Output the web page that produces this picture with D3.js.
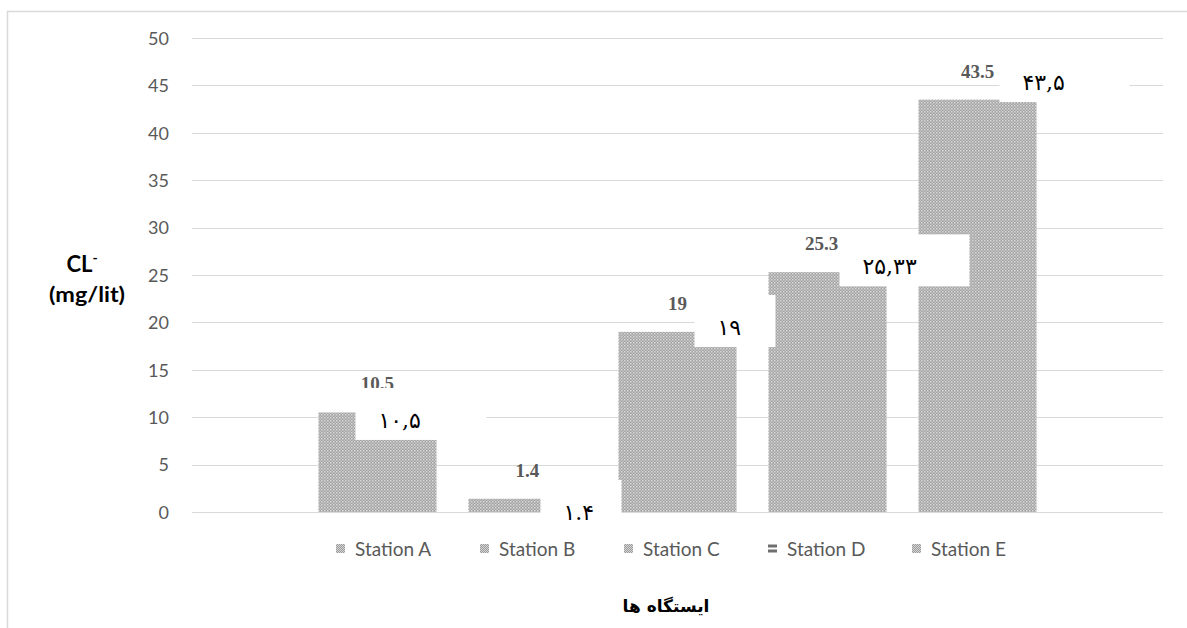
<!DOCTYPE html>
<html>
<head>
<meta charset="utf-8">
<script src="https://cdn.jsdelivr.net/npm/d3@7"></script>
<style>
  html, body { margin: 0; padding: 0; background: #fff; }
  svg { display: block; }
</style>
</head>
<body>
<svg id="chart" width="1187" height="628"></svg>
<script>
// ---- data ----
const stations = ["Station A", "Station B", "Station C", "Station D", "Station E"];
const values = [10.5, 1.4, 19, 25.3, 43.5];
const valueLabels = ["10.5", "1.4", "19", "25.3", "43.5"];
const persianLabels = ["۱۰,۵", "۱.۴", "۱۹", "۲۵,۳۳", "۴۳,۵"];
const yTicks = [0, 5, 10, 15, 20, 25, 30, 35, 40, 45, 50];
const yTitle = "CL";
const yUnit = "(mg/lit)";
const xTitle = "ایستگاه ها";

// ---- annotation layout (overlaid Persian label boxes) ----
const boxDx = [37, 72, 76, 71, 81];        // px from bar left
const boxW = [131, 81, 81, 130, 130];       // px
const boxBottom = [7.6, -2.1, 17.4, 23.8, 43.25]; // in data units
const BOX_H = 52;

const svg = d3.select("#chart");
const defs = svg.append("defs");

// dotted pattern
const pat = defs.append("pattern").attr("id", "dots")
  .attr("patternUnits", "userSpaceOnUse").attr("width", 3).attr("height", 3);
pat.append("rect").attr("width", 3).attr("height", 3).attr("fill", "#a2a2a2");
pat.append("rect").attr("x", 0).attr("y", 0).attr("width", 1.5).attr("height", 1.5).attr("fill", "#dadada");
pat.append("rect").attr("x", 1.5).attr("y", 1.5).attr("width", 1.5).attr("height", 1.5).attr("fill", "#c4c4c4");

const lpat = defs.append("pattern").attr("id", "ldots")
  .attr("patternUnits", "userSpaceOnUse").attr("width", 2).attr("height", 2);
lpat.append("rect").attr("width", 2).attr("height", 2).attr("fill", "#9a9a9a");
lpat.append("rect").attr("width", 1).attr("height", 1).attr("fill", "#d6d6d6");
lpat.append("rect").attr("x", 1).attr("y", 1).attr("width", 1).attr("height", 1).attr("fill", "#d6d6d6");

const hpat = defs.append("pattern").attr("id", "hlines")
  .attr("patternUnits", "userSpaceOnUse").attr("x", 0).attr("y", 544)
  .attr("width", 10).attr("height", 5);
hpat.append("rect").attr("width", 10).attr("height", 5).attr("fill", "#ffffff");
hpat.append("rect").attr("y", 0.5).attr("width", 10).attr("height", 3).attr("fill", "#6f6f6f");

// chart border (cropped on right and bottom)
svg.append("rect").attr("x", 7.5).attr("y", 11.5).attr("width", 1300).attr("height", 700)
  .attr("fill", "none").attr("stroke", "#d9d9d9").attr("stroke-width", 1.5);

const x = d3.scaleBand().domain(stations).range([192, 1163])
  .paddingInner(0.213).paddingOuter(0.843);
const y = d3.scaleLinear().domain([0, 50]).range([512, 38]);

// gridlines
svg.append("g").selectAll("line").data(yTicks).join("line")
  .attr("x1", 192).attr("x2", 1163)
  .attr("y1", d => Math.round(y(d)) + 0.5).attr("y2", d => Math.round(y(d)) + 0.5)
  .attr("stroke", "#d9d9d9").attr("stroke-width", 1);

// y axis tick labels
const yAxis = d3.axisLeft(y).tickValues(yTicks).tickSize(0).tickPadding(0);
const gy = svg.append("g").attr("transform", "translate(169,0)").call(yAxis);
gy.select(".domain").remove();
gy.selectAll("text").attr("font-family", "Lato, 'Open Sans', sans-serif")
  .attr("font-size", 18).attr("fill", "#595959").attr("dy", "0.35em");

// bars
svg.append("g").selectAll("rect").data(values).join("rect")
  .attr("x", (d, i) => x(stations[i]))
  .attr("width", x.bandwidth())
  .attr("y", d => y(d))
  .attr("height", d => y(0) - y(d))
  .attr("fill", "url(#dots)");

// value labels (Times bold gray) - drawn beneath the overlay boxes
svg.append("g").selectAll("text").data(values).join("text")
  .attr("x", (d, i) => x(stations[i]) + x.bandwidth() / 2 - (i === 3 ? 6 : 0))
  .attr("y", d => y(d) - 22)
  .attr("text-anchor", "middle")
  .attr("font-family", "'Liberation Serif', 'Times New Roman', serif")
  .attr("font-weight", "bold").attr("font-size", 19).attr("fill", "#595959")
  .text((d, i) => valueLabels[i]);

// Persian label boxes
const pg = svg.append("g").selectAll("g").data(persianLabels).join("g");
pg.append("rect")
  .attr("x", (d, i) => x(stations[i]) + boxDx[i])
  .attr("y", (d, i) => y(boxBottom[i]) - BOX_H)
  .attr("width", (d, i) => boxW[i])
  .attr("height", BOX_H)
  .attr("fill", "#ffffff");
pg.append("text")
  .attr("x", (d, i) => x(stations[i]) + boxDx[i] + 23)
  .attr("y", (d, i) => y(boxBottom[i]) - 12)
  .attr("direction", "ltr")
  .attr("font-family", "'DejaVu Serif', 'DejaVu Sans', serif")
  .attr("font-size", 22).attr("fill", "#000")
  .text(d => d);

// legend
const lg = svg.append("g").selectAll("g").data(stations).join("g")
  .attr("transform", (d, i) => `translate(${336 + i * 144},0)`);
lg.append("rect").attr("x", 0).attr("y", 544).attr("width", 9).attr("height", 9)
  .attr("fill", (d, i) => i === 3 ? "url(#hlines)" : "url(#ldots)");
lg.append("text").attr("x", 19).attr("y", 556)
  .attr("font-family", "Lato, 'Open Sans', sans-serif").attr("font-size", 19)
  .attr("fill", "#595959").text(d => d);

// y title
const yt = svg.append("text").attr("x", 82).attr("y", 272)
  .attr("text-anchor", "middle")
  .attr("font-family", "Lato, 'Open Sans', sans-serif").attr("font-weight", "bold")
  .attr("font-size", 22).attr("fill", "#000");
yt.append("tspan").text(yTitle);
yt.append("tspan").attr("dy", -9).attr("font-size", 14).text("-");
svg.append("text").attr("x", 87).attr("y", 302).attr("text-anchor", "middle")
  .attr("font-family", "Lato, 'Open Sans', sans-serif").attr("font-weight", "bold")
  .attr("font-size", 20).attr("fill", "#000")
  .attr("textLength", 76).attr("lengthAdjust", "spacingAndGlyphs").text(yUnit);

// x title
svg.append("text").attr("x", 666).attr("y", 612).attr("text-anchor", "middle")
  .attr("direction", "rtl")
  .attr("font-family", "'DejaVu Sans', sans-serif").attr("font-weight", "bold")
  .attr("font-size", 17).attr("fill", "#000").text(xTitle);
</script>
</body>
</html>
